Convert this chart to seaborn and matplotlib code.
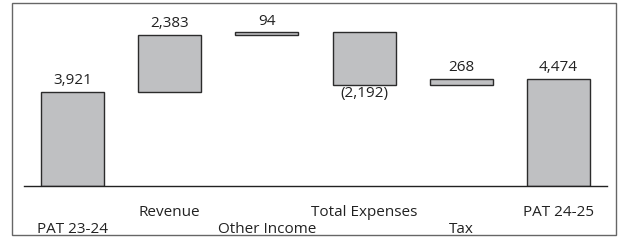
import matplotlib
matplotlib.use("Agg")
import matplotlib.pyplot as plt
import matplotlib.patches as patches
import seaborn as sns
import pandas as pd
import numpy as np

# datos del waterfall (Rs crore)
categories = ["PAT 23-24", "Revenue", "Other Income", "Total Expenses", "Tax", "PAT 24-25"]
changes = [3921, 2383, 94, -2192, 268, 4474]
is_total = [True, False, False, False, False, True]
value_labels = ["3,921", "2,383", "94", "(2,192)", "268", "4,474"]

# bases y alturas de cada barra
bases, heights = [], []
running = 0
for v, tot in zip(changes, is_total):
    if tot:
        bases.append(0)
        heights.append(v)
        running = v
    else:
        bases.append(running + min(v, 0))
        heights.append(abs(v))
        running += v

df = pd.DataFrame({"cat": categories, "height": heights, "base": bases})

sns.set_style("white")
plt.rcParams["font.family"] = ["Open Sans", "DejaVu Sans"]

fig = plt.figure(figsize=(6.19, 2.45), dpi=100)
ax = fig.add_axes([24 / 619, 59 / 245, 583 / 619, 176 / 245])

sns.barplot(data=df, x="cat", y="height", bottom=df["base"].values, color="#bfc0c2",
            saturation=1, width=0.65, edgecolor="#2b2b2b", linewidth=1, ax=ax)

ax.set_xlim(-0.5, len(categories) - 0.5)
ax.set_ylim(0, 7333)

# etiquetas de valores
for i, (b, h, v, lab) in enumerate(zip(bases, heights, changes, value_labels)):
    if v >= 0:
        ax.annotate(lab, (i, b + h), xytext=(0, 2.5), textcoords="offset points",
                    ha="center", va="bottom", fontsize=11, color="#222222")
    else:
        ax.annotate(lab, (i, b), xytext=(0, -1), textcoords="offset points",
                    ha="center", va="top", fontsize=11, color="#222222")

# ejes
for s in ["top", "left", "right"]:
    ax.spines[s].set_visible(False)
ax.spines["bottom"].set_color("#222222")
ax.spines["bottom"].set_linewidth(1)
ax.set_yticks([])
ax.set_xlabel("")
ax.set_ylabel("")
ax.tick_params(axis="x", length=0, labelsize=11, labelcolor="#222222")
for i, t in enumerate(ax.xaxis.get_major_ticks()):
    t.set_pad(26 if i % 2 == 0 else 14)

# marco exterior
fig.patches.append(patches.Rectangle((12 / 619, 10 / 245), 604 / 619, 232 / 245,
                                     transform=fig.transFigure, fill=False,
                                     edgecolor="#666666", linewidth=1))

fig.savefig("out.png", dpi=100)
